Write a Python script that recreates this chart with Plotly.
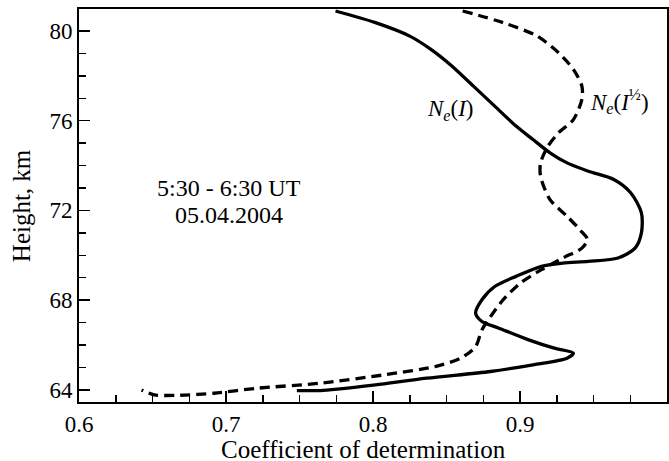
import plotly.graph_objects as go

# N_e(I) solid curve
solid_x = [0.7745, 0.8017, 0.825, 0.8394, 0.8538, 0.8683, 0.8828, 0.8973, 0.9088, 0.9204,
           0.932, 0.9465, 0.9638, 0.9754, 0.9826, 0.9826, 0.9783, 0.9667, 0.9465, 0.9291,
           0.9146, 0.8973, 0.8828, 0.8741, 0.8698, 0.8741, 0.8857, 0.9059, 0.9233, 0.9363,
           0.932, 0.9088, 0.88, 0.8365, 0.8017, 0.7757, 0.7641, 0.7482]
solid_y = [80.89, 80.37, 79.77, 79.18, 78.43, 77.54, 76.65, 75.76, 75.16, 74.57,
           74.12, 73.75, 73.38, 72.78, 71.89, 71.0, 70.32, 69.88, 69.73, 69.65,
           69.51, 69.06, 68.61, 68.02, 67.42, 67.05, 66.75, 66.23, 65.86, 65.64,
           65.41, 65.12, 64.82, 64.52, 64.22, 64.03, 63.97, 63.97]

# N_e(I^1/2) dashed curve
dash_x = [0.861, 0.8886, 0.9117, 0.9262, 0.9363, 0.9421, 0.9421, 0.9363, 0.9262, 0.919,
          0.914, 0.914, 0.9204, 0.932, 0.9407, 0.9459, 0.9421, 0.9291, 0.9146, 0.9002,
          0.8886, 0.88, 0.8741, 0.8698, 0.8596, 0.8423, 0.8075, 0.7641, 0.7207, 0.6917,
          0.6686, 0.6512, 0.6426]
dash_y = [80.89, 80.37, 79.77, 79.03, 78.29, 77.54, 76.95, 76.05, 75.46, 74.86,
          74.12, 73.52, 72.48, 71.74, 71.14, 70.70, 70.32, 69.88, 69.36, 68.76,
          68.02, 67.27, 66.68, 65.93, 65.41, 65.04, 64.67, 64.30, 64.07, 63.85,
          63.76, 63.78, 64.0]

x_ticks = [0.6, 0.7, 0.8, 0.9, 1.0]
x_ticklabels = ["0.6", "0.7", "0.8", "0.9", "1"]
y_ticks = [64, 68, 72, 76, 80]
y_ticklabels = ["64", "68", "72", "76", "80"]

FONT = "Liberation Serif, Times New Roman, serif"
BLACK = "black"

fig = go.Figure()
fig.add_trace(go.Scatter(x=solid_x, y=solid_y, mode="lines",
                         line=dict(color=BLACK, width=3.3, shape="spline", smoothing=0.8),
                         showlegend=False, hoverinfo="skip"))
fig.add_trace(go.Scatter(x=dash_x, y=dash_y, mode="lines",
                         line=dict(color=BLACK, width=3.3, dash="10px,6px", shape="spline", smoothing=0.8),
                         showlegend=False, hoverinfo="skip"))

fig.add_annotation(x=0.702, y=73.0, text="5:30 - 6:30 UT", showarrow=False,
                   font=dict(family=FONT, size=24, color=BLACK))
fig.add_annotation(x=0.702, y=71.79, text="05.04.2004", showarrow=False,
                   font=dict(family=FONT, size=24, color=BLACK))
fig.add_annotation(x=0.853, y=76.48, text="<i>N</i><sub><i>e</i></sub>(<i>I</i>)", showarrow=False,
                   font=dict(family=FONT, size=23, color=BLACK))
fig.add_annotation(x=0.968, y=76.85, text="<i>N</i><sub><i>e</i></sub>(<i>I</i><sup>½</sup>)",
                   showarrow=False, font=dict(family=FONT, size=23, color=BLACK))

# axis titles as annotations for exact placement
fig.add_annotation(xref="paper", yref="paper", x=0.483, y=-0.12, text="Coefficient of determination",
                   showarrow=False, xanchor="center", yanchor="middle",
                   font=dict(family=FONT, size=25, color=BLACK))
fig.add_annotation(xref="paper", yref="paper", x=-0.0975, y=0.5, text="Height, km", textangle=-90,
                   showarrow=False, xanchor="center", yanchor="middle",
                   font=dict(family=FONT, size=25, color=BLACK))

axis_common = dict(showline=True, linecolor=BLACK, linewidth=2, mirror=True,
                   ticks="inside", ticklen=11, tickwidth=1.5, tickcolor=BLACK,
                   showgrid=False, zeroline=False, automargin=False,
                   tickfont=dict(family=FONT, size=23, color=BLACK))

fig.update_xaxes(range=[0.6, 1.0], tickmode="array", tickvals=x_ticks, ticktext=x_ticklabels,
                 minor=dict(dtick=0.025, ticks="inside", ticklen=7, tickwidth=1.5, tickcolor=BLACK),
                 **axis_common)
fig.update_yaxes(range=[63.46, 80.98], tickmode="array", tickvals=y_ticks, ticktext=y_ticklabels,
                 minor=dict(dtick=1, ticks="inside", ticklen=7, tickwidth=1.5, tickcolor=BLACK),
                 **axis_common)

fig.update_layout(width=669, height=461, margin=dict(l=79, r=2, t=9, b=59),
                  font=dict(family=FONT, size=23, color=BLACK),
                  plot_bgcolor="white", paper_bgcolor="white", hovermode=False)

# remove the browser's default body margin so the figure sits at the page origin
fig.write_html("out.html", config={"displayModeBar": False, "staticPlot": True},
               post_script="document.body.style.margin='0';document.body.style.overflow='hidden';")
